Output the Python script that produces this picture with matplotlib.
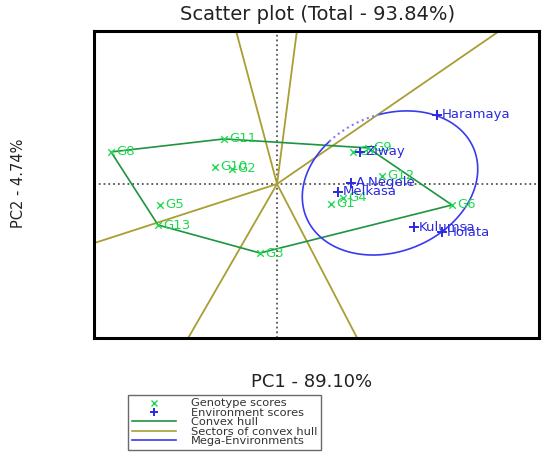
import numpy as np
import matplotlib.pyplot as plt
from matplotlib.lines import Line2D

plt.rcParams['font.family'] = ['DejaVu Sans']

# genotype scores (PC1, PC2)
genotypes = ['G1', 'G2', 'G3', 'G4', 'G5', 'G6', 'G7', 'G8', 'G9', 'G10', 'G11', 'G12', 'G13']
gen_pc1 = [5.4, -4.5, -1.7, 6.6, -11.7, 17.5, 7.6, -16.6, 9.1, -6.2, -5.3, 10.5, -11.9]
gen_pc2 = [-2.0, 1.5, -6.9, -1.4, -2.1, -2.1, 3.2, 3.2, 3.6, 1.7, 4.5, 0.8, -4.1]

# environment scores
environments = ['Haramaya', 'Ziway', 'A.Negele', 'Melkasa', 'Kulumsa', 'Holata']
env_pc1 = [16.0, 8.3, 7.4, 6.1, 13.7, 16.5]
env_pc2 = [6.9, 3.2, 0.1, -0.8, -4.3, -4.8]

# convex hull vertices (in order)
hull = ['G8', 'G11', 'G9', 'G6', 'G3', 'G13']

# sector ray directions from the origin (degrees)
sector_angles = [105.0, 82.6, 34.5, 197.9, 240.0, 297.5]

# mega-environment ellipse: centre, semi axes, tilt, dotted arc (param. degrees)
ell_center = (11.3, 0.1)
ell_a, ell_b = 9.05, 6.85
ell_angle = 22.0
ell_dotted = (80.0, 117.0)

col_gen = '#1fd850'
col_hull = '#1e9440'
col_sector = '#a89e32'
col_env = '#2a2ae0'
col_ell = '#3a3aee'

fig = plt.figure(figsize=(5.5, 4.67), dpi=100)
ax = fig.add_axes([0.171, 0.276, 0.809, 0.658])

ax.axhline(0, color='#555555', linestyle=':', linewidth=1.3, zorder=1)
ax.axvline(0, color='#555555', linestyle=':', linewidth=1.3, zorder=1)

# sectors
for ang in sector_angles:
    a = np.radians(ang)
    ax.plot([0, 100 * np.cos(a)], [0, 100 * np.sin(a)], color=col_sector, linewidth=1.3, zorder=2)

# convex hull
idx = [genotypes.index(g) for g in hull] + [genotypes.index(hull[0])]
ax.plot([gen_pc1[i] for i in idx], [gen_pc2[i] for i in idx], color=col_hull, linewidth=1.2, zorder=3)


# ellipse
def ellipse_pts(t0, t1):
    t = np.radians(np.linspace(t0, t1, 200))
    x = ell_a * np.cos(t)
    y = ell_b * np.sin(t)
    r = np.radians(ell_angle)
    return (ell_center[0] + x * np.cos(r) - y * np.sin(r),
            ell_center[1] + x * np.sin(r) + y * np.cos(r))


ex, ey = ellipse_pts(ell_dotted[1], ell_dotted[0] + 360)
ax.plot(ex, ey, color=col_ell, linewidth=1.2, zorder=3)
ex, ey = ellipse_pts(ell_dotted[0], ell_dotted[1])
ax.plot(ex, ey, color='#7f7ff2', linewidth=1.5, linestyle=':', zorder=3)

# points and labels
ax.scatter(gen_pc1, gen_pc2, marker='x', color=col_gen, s=22, linewidths=1.0, zorder=4)
for name, x, y in zip(genotypes, gen_pc1, gen_pc2):
    ax.annotate(name, xy=(x, y), xytext=(3.5, 0), textcoords='offset points',
                color=col_gen, fontsize=9.5, va='center', ha='left', zorder=4)

ax.scatter(env_pc1, env_pc2, marker='+', color=col_env, s=55, linewidths=1.4, zorder=5)
for name, x, y in zip(environments, env_pc1, env_pc2):
    ax.annotate(name, xy=(x, y), xytext=(3.5, 0), textcoords='offset points',
                color=col_env, fontsize=9.5, va='center', ha='left', zorder=5)

ax.set_xlim(-18.3, 26.2)
ax.set_ylim(-15.4, 15.3)
ax.set_xticks([])
ax.set_yticks([])
for sp in ax.spines.values():
    sp.set_linewidth(2.2)

fig.text(0.577, 0.968, 'Scatter plot (Total - 93.84%)', fontsize=14, ha='center', va='center', color='#222222')
fig.text(0.566, 0.182, 'PC1 - 89.10%', fontsize=13, ha='center', va='center', color='#222222')
fig.text(0.033, 0.608, 'PC2 - 4.74%', fontsize=10.5, ha='center', va='center', rotation=90, color='#222222')

handles = [
    Line2D([], [], linestyle='none', marker='x', color=col_gen, markersize=4.5, markeredgewidth=1.0),
    Line2D([], [], linestyle='none', marker='+', color=col_env, markersize=6, markeredgewidth=1.4),
    Line2D([], [], color=col_hull, linewidth=1.2),
    Line2D([], [], color=col_sector, linewidth=1.2),
    Line2D([], [], color=col_ell, linewidth=1.2),
]
labels = ['Genotype scores', 'Environment scores', 'Convex hull', 'Sectors of convex hull', 'Mega-Environments']
leg = fig.legend(handles, labels, loc='upper left', bbox_to_anchor=(0.233, 0.154), fontsize=8.2,
                 labelspacing=-0.05, handlelength=3.9, handletextpad=1.3, borderpad=0.3,
                 borderaxespad=0, fancybox=False, frameon=True)
leg.get_frame().set_edgecolor('#444444')
leg.get_frame().set_linewidth(1.0)
for t in leg.get_texts():
    t.set_color('#333333')

fig.savefig('out.png', dpi=100)
